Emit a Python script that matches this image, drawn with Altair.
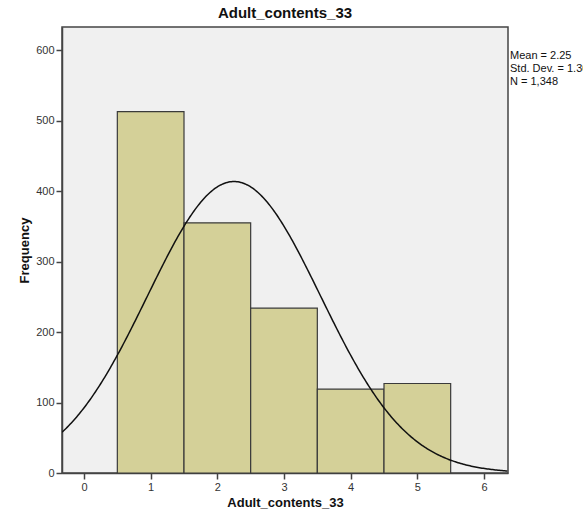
import altair as alt
import pandas as pd

# Histogram bins (bin centres) and their frequencies
bin_centers = [1, 2, 3, 4, 5]
frequencies = [513, 355, 234, 119, 127]

# Summary statistics shown beside the plot
mean_value = 2.25
std_dev = 1.30
n_total = 1348
stat_lines = ["Mean = 2.25", "Std. Dev. = 1.30", "N = 1,348"]

x_ticks = [0, 1, 2, 3, 4, 5, 6]
y_ticks = [0, 100, 200, 300, 400, 500, 600]
x_domain = [-0.33, 6.36]
y_domain = [0, 633]

FONT = "Liberation Sans"

bars_df = pd.DataFrame({
    "start": [c - 0.5 for c in bin_centers],
    "end": [c + 0.5 for c in bin_centers],
    "count": frequencies,
})

x_scale = alt.Scale(domain=x_domain, nice=False, zero=False)
y_scale = alt.Scale(domain=y_domain, nice=False)

bars = alt.Chart(bars_df).mark_rect(
    fill="#D4D098", stroke="#3a3a3a", strokeWidth=1.2
).encode(
    x=alt.X("start:Q", scale=x_scale,
            axis=alt.Axis(values=x_ticks, title="Adult_contents_33", format="d")),
    x2="end:Q",
    y=alt.Y("count:Q", scale=y_scale,
            axis=alt.Axis(values=y_ticks, title="Frequency", format="d")),
    y2=alt.datum(0),
)

# Fitted normal curve scaled to counts (bin width 1)
curve = alt.Chart(alt.sequence(start=x_domain[0], stop=x_domain[1] + 0.01, step=0.02, as_="x")).transform_calculate(
    y=f"{n_total} / ({std_dev} * sqrt(2 * PI)) * exp(-0.5 * pow((datum.x - {mean_value}) / {std_dev}, 2))"
).mark_line(color="#111111", strokeWidth=1.5, clip=True).encode(
    x=alt.X("x:Q", scale=x_scale),
    y=alt.Y("y:Q", scale=y_scale),
)

# Statistics block to the right of the plot frame, one line per text mark
stat_layers = []
for i, line in enumerate(stat_lines):
    stat_layers.append(
        alt.Chart(pd.DataFrame({"label": [line]})).mark_text(
            align="left", baseline="middle", font=FONT, fontSize=11, color="#111111"
        ).encode(
            x=alt.value(448),
            y=alt.value(29 + 13 * i),
            text="label:N",
        )
    )

chart = alt.layer(bars, curve, *stat_layers).properties(
    width=446,
    height=446,
    autosize=alt.AutoSizeParams(type="none"),
    padding={"left": 62, "top": 27, "right": 75, "bottom": 48},
    background="white",
    title=alt.TitleParams("Adult_contents_33", font=FONT, fontSize=15, fontWeight="bold",
                          color="#111111", offset=6),
).configure_view(
    fill="#F0F0F0", stroke="#444444", strokeWidth=1.5
).configure_axis(
    grid=False,
    domainColor="#444444",
    domainWidth=1.5,
    tickColor="#444444",
    tickSize=6,
    tickWidth=1.5,
    labelFont=FONT,
    labelFontSize=11,
    labelColor="#333333",
    titleFont=FONT,
    titleFontSize=13,
    titleFontWeight="bold",
    titleColor="#111111",
)

chart.save("out.html", embed_options={"renderer": "svg", "actions": False})
